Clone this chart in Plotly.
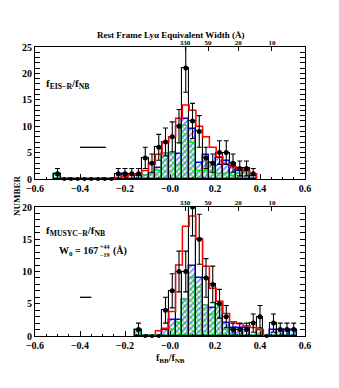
import numpy as np
import plotly.graph_objects as go

# bin centres of the f_BB/f_NB histograms (bin width 0.03)
top_centers = [-0.50, -0.47, -0.44, -0.41, -0.38, -0.35, -0.32, -0.29, -0.26, -0.23,
               -0.20, -0.17, -0.14, -0.11, -0.08, -0.05, -0.02, 0.01, 0.04, 0.07,
               0.10, 0.13, 0.16, 0.19, 0.22, 0.25, 0.28, 0.31, 0.34, 0.37]
top_black = [1, 0, 0, 0, 0, 0, 0, 0, 0, 1,
             1, 1, 1, 4, 3, 6, 7, 8, 10, 21,
             11, 9, 4, 3, 5, 5, 3, 2, 2, 1]
top_red = [0, 0, 0, 0, 0, 0, 0, 0, 0, 0.3,
           0.5, 0.8, 1.0, 1.6, 2.8, 4.7, 7.0, 8.0, 11.5, 14.0,
           13.0, 10.0, 8.0, 6.0, 4.2, 2.8, 2.3, 1.9, 1.5, 1.0]
top_blue = [1, 0, 0, 0, 0, 0, 0, 0, 0, 0,
            1, 0, 0.5, 0.5, 1, 2, 4.7, 4.7, 4.7, 11.4,
            9.5, 3, 4.5, 3, 4, 3.5, 2.5, 1.5, 1.5, 0.5]
top_green = [1, 0, 0, 0, 0, 0, 0, 0, 0, 0,
             0, 0, 0, 0.5, 1, 1.6, 4.7, 4.7, 2.5, 10,
             6.9, 1.5, 1.5, 3, 1, 1, 0.5, 1, 1, 0]

bot_centers = [-0.14, -0.11, -0.08, -0.05, -0.02, 0.01, 0.04, 0.07, 0.10, 0.13,
               0.16, 0.19, 0.22, 0.25, 0.28, 0.31, 0.34, 0.37, 0.40, 0.43,
               0.46, 0.49, 0.52, 0.55]
bot_black = [1, 0, 0, 0, 4, 7, 10, 10, 20, 15,
             9, 8, 5, 3, 1, 1, 1, 2, 3, 0,
             2, 1, 1, 1]
bot_red = [0, 0, 0, 0.8, 1.2, 3.8, 11, 17, 18.6, 15,
           10.8, 7.4, 5.4, 3.5, 2.2, 1.9, 1.6, 1.3, 1.0, 0,
           0, 0, 0, 0]
bot_blue = [1, 0, 0, 0, 1, 2.5, 2.5, 5.6, 10.8, 9,
            4.6, 4.4, 4.8, 2, 1.2, 1.2, 1.2, 0, 1, 0,
            1, 1, 1, 1]
bot_green = [1, 0, 0, 0, 0, 1, 2, 5.6, 9, 7.4,
             4.6, 3.3, 4.8, 1, 0, 0, 0, 0, 1, 0,
             0, 0, 0, 0]

bin_width = 0.03

# typical colour error bars drawn in each panel
top_errbar_x = [-0.40, -0.285]
bot_errbar_x = [-0.40, -0.35]
errbar_y = 6

x_ticks = [-0.6, -0.4, -0.2, 0.0, 0.2, 0.4, 0.6]
x_ticktext = ["\u22120.6", "\u22120.4", "\u22120.2", "\u22120.0", "0.2", "0.4", "0.6"]
ew_labels = ["330", "50", "20", "10"]
ew_pos = [0.067, 0.169, 0.303, 0.453]

W, H = 339, 388
FONT = "Liberation Serif"


def px(x):
    return x / W


def py(y):
    return 1 - y / H


def add_panel(fig, centers, black, red, blue, green, xa, ya):
    c = np.array(centers)
    b = np.array(black, dtype=float)
    fig.add_trace(go.Bar(
        x=c, y=blue, width=bin_width, xaxis=xa, yaxis=ya,
        marker=dict(color="rgba(0,0,0,0)", line=dict(color="#0000ff", width=1.5),
                    pattern=dict(shape="/", fgcolor="#0000ff", size=4, solidity=0.45,
                                 fillmode="overlay")),
    ))
    fig.add_trace(go.Bar(
        x=c, y=green, width=bin_width, xaxis=xa, yaxis=ya,
        marker=dict(color="rgba(0,0,0,0)", line=dict(color="#00ee00", width=1.5),
                    pattern=dict(shape="\\", fgcolor="#00dd00", size=4, solidity=0.45,
                                 fillmode="overlay")),
    ))
    fig.add_trace(go.Bar(
        x=c, y=b, width=bin_width, xaxis=xa, yaxis=ya,
        marker=dict(color="rgba(0,0,0,0)", line=dict(color="black", width=1.1)),
    ))
    # red step histogram, from the first non-empty bin
    r = np.array(red, dtype=float)
    nz = np.nonzero(r)[0]
    i0, i1 = nz[0], nz[-1] + 1
    edges = c[i0:i1] - bin_width / 2
    right = c[i1 - 1] + bin_width / 2
    xs = np.concatenate([[edges[0]], edges, [right, right]])
    ys = np.concatenate([[0], r[i0:i1], [r[i1 - 1], 0]])
    fig.add_trace(go.Scatter(
        x=xs, y=ys, mode="lines", line=dict(color="#ff0000", width=1.5, shape="hv"),
        xaxis=xa, yaxis=ya,
    ))
    full = b > 0
    fig.add_trace(go.Scatter(
        x=c[full], y=b[full], mode="markers", xaxis=xa, yaxis=ya,
        marker=dict(color="black", size=5),
        error_y=dict(type="data", array=np.sqrt(b[full]), color="black",
                     thickness=1.1, width=2.5),
    ))
    # empty bins: a dot on the baseline
    fig.add_trace(go.Scatter(
        x=c[~full], y=b[~full], mode="markers", xaxis=xa, yaxis=ya, cliponaxis=False,
        marker=dict(color="black", size=4),
    ))


fig = go.Figure()
add_panel(fig, top_centers, top_black, top_red, top_blue, top_green, "x2", "y2")
add_panel(fig, bot_centers, bot_black, bot_red, bot_blue, bot_green, "x", "y")

fig.add_trace(go.Scatter(x=top_errbar_x, y=[errbar_y, errbar_y], mode="lines",
                         line=dict(color="black", width=1.3), xaxis="x2", yaxis="y2"))
fig.add_trace(go.Scatter(x=bot_errbar_x, y=[errbar_y, errbar_y], mode="lines",
                         line=dict(color="black", width=1.3), xaxis="x", yaxis="y"))
# hold the equivalent-width axes open
fig.add_trace(go.Scatter(x=[None], y=[None], xaxis="x3", yaxis="y2", hoverinfo="skip"))
fig.add_trace(go.Scatter(x=[None], y=[None], xaxis="x4", yaxis="y", hoverinfo="skip"))

tickfont = dict(family=FONT, size=10, color="black", weight="bold")
xdom = [px(35), px(305)]
top_dom = [py(179), py(47)]
bot_dom = [py(336), py(207)]

xcommon = dict(
    range=[-0.6, 0.6], tickvals=x_ticks, ticktext=x_ticktext, ticks="inside",
    ticklen=5, tickcolor="black", showline=True, linecolor="black", linewidth=1,
    mirror=True, showgrid=False, zeroline=False, tickfont=tickfont, automargin=False,
    minor=dict(dtick=0.05, tick0=0, ticks="inside", ticklen=2.5, tickcolor="black"),
    domain=xdom,
)
ycommon = dict(
    dtick=5, tick0=0, ticks="inside", ticklen=5, tickcolor="black", showline=True,
    linecolor="black", linewidth=1, mirror="allticks", showgrid=False, zeroline=False,
    tickfont=tickfont, automargin=False,
    minor=dict(dtick=1, tick0=0, ticks="inside", ticklen=2.5, tickcolor="black"),
)
ewcommon = dict(
    range=[-0.6, 0.6], tickmode="array", tickvals=ew_pos, ticktext=ew_labels,
    ticks="inside", ticklen=4, tickcolor="black", side="top", showgrid=False,
    zeroline=False, showline=False, automargin=False,
    tickfont=dict(family=FONT, size=7, color="black", weight="bold"), domain=xdom,
)

fig.update_layout(
    width=W, height=H, margin=dict(l=0, r=0, t=0, b=0),
    paper_bgcolor="white", plot_bgcolor="white", showlegend=False,
    barmode="overlay", bargap=0,
    xaxis=dict(xcommon, anchor="y"),
    yaxis=dict(ycommon, range=[0, 20], domain=bot_dom, anchor="x"),
    xaxis2=dict(xcommon, anchor="y2"),
    yaxis2=dict(ycommon, range=[0, 25], domain=top_dom, anchor="x2"),
    xaxis3=dict(ewcommon, overlaying="x2", anchor="y2"),
    xaxis4=dict(ewcommon, overlaying="x", anchor="y"),
)

ann_font = dict(family=FONT, size=11, color="black", weight="bold")
annotations = [
    dict(x=px(170), y=py(28), text="Rest Frame Ly\u03b1 Equivalent Width (\u00c5)",
         font=dict(family=FONT, size=9, color="black", weight="bold")),
    dict(x=px(44), y=py(75), xanchor="left",
         text="f<sub>EIS\u2212R</sub>/f<sub>NB</sub>", font=ann_font),
    dict(x=px(44), y=py(231), xanchor="left",
         text="f<sub>MUSYC\u2212R</sub>/f<sub>NB</sub>", font=ann_font),
    dict(x=px(57), y=py(251), xanchor="left",
         text="W<sub>0</sub> = 167", font=dict(family=FONT, size=10, color="black", weight="bold")),
    dict(x=px(98), y=py(251), xanchor="left", text="+44<br>\u221219",
         font=dict(family=FONT, size=6, color="black", weight="bold")),
    dict(x=px(111), y=py(251), xanchor="left", text="(\u00c5)",
         font=dict(family=FONT, size=10, color="black", weight="bold")),
    dict(x=px(170), y=py(367), text="f<sub>BB</sub>/f<sub>NB</sub>",
         font=dict(family=FONT, size=10, color="black", weight="bold")),
    dict(x=px(10), y=py(196), text="NUMBER", textangle=-90,
         font=dict(family=FONT, size=9, color="black", weight="bold")),
]
for a in annotations:
    a.update(xref="paper", yref="paper", showarrow=False)
fig.update_layout(annotations=annotations)

# page body has a default margin; drop it so the figure sits at the window corner
fig.write_html("out.html", config={"displayModeBar": False},
               post_script="document.body.style.margin='0px';document.body.style.overflow='hidden';")
